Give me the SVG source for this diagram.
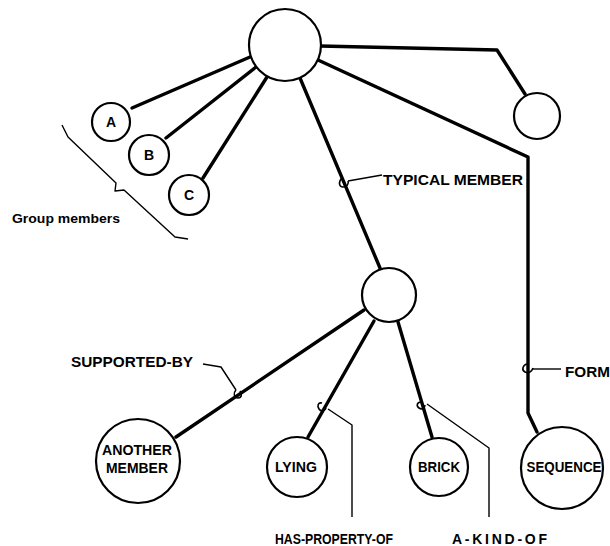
<svg xmlns="http://www.w3.org/2000/svg" width="610" height="546" viewBox="0 0 610 546">
<style>
.node{fill:#fff;stroke:#000;stroke-width:2.2}
.edge{fill:none;stroke:#000;stroke-width:3.4;stroke-linejoin:round;stroke-linecap:round}
.lead{fill:none;stroke:#000;stroke-width:1.4;stroke-linejoin:round}
.curl{fill:none;stroke:#000;stroke-width:1.6}
text{font-family:"Liberation Sans",Arial,sans-serif;font-weight:bold;fill:#000}
.lbl{font-size:15px}
.bl{font-size:14px}
.nl{font-size:14px;text-anchor:middle}
</style>
<rect width="610" height="546" fill="#fff"/>
<g id="connectors">
<path class="edge" d="M250,57 L132,108"/>
<path class="edge" d="M256,67 L166,138"/>
<path class="edge" d="M267,77 L203,178"/>
<path class="edge" d="M300,78 L380,268"/>
<path class="edge" d="M320,46 L497,50 L525,94"/>
<path class="edge" d="M318,60 L528,157 L528,413 L537,432"/>
<path class="edge" d="M364,310 L176,437"/>
<path class="edge" d="M374,321 L308,437"/>
<path class="edge" d="M398,322 L432,437"/>
</g>
<g id="label-typical-member">
<path class="curl" d="M342,178 c-4,4 -3,9 1,9 c4,0 6,-3 5,-6"/>
<path class="lead" d="M348,181 L382,175"/>
<text class="lbl" x="383" y="185" textLength="140" lengthAdjust="spacingAndGlyphs">TYPICAL MEMBER</text>
</g>
<g id="label-form">
<path class="curl" d="M527,364 c-4,1 -6,6 -2,8 c4,2 7,-1 8,-4"/>
<path class="lead" d="M532,369 L561,369"/>
<text class="lbl" x="565" y="377" textLength="45" lengthAdjust="spacingAndGlyphs">FORM</text>
</g>
<g id="label-supported-by">
<text class="lbl" x="71" y="367" textLength="122" lengthAdjust="spacingAndGlyphs">SUPPORTED-BY</text>
<path class="lead" d="M203,364 L221,367 L236,390"/>
<path class="curl" d="M236,390 c-3,3 -2,8 2,8 c4,0 4,-4 2,-7"/>
</g>
<g id="label-has-property-of">
<path class="curl" d="M322,403 c-4,-1 -5,3 -3,6 c2,3 6,2 7,-1"/>
<path class="lead" d="M328,409 L352,425 L352,517"/>
<text class="bl" x="275" y="544" textLength="118" lengthAdjust="spacingAndGlyphs">HAS-PROPERTY-OF</text>
</g>
<g id="label-a-kind-of">
<path class="curl" d="M421,402 c-4,0 -5,4 -2,6 c3,2 6,0 6,-3"/>
<path class="lead" d="M427,404 L489,448 L489,517"/>
<text class="bl" x="452" y="544" textLength="95" lengthAdjust="spacing">A-KIND-OF</text>
</g>
<g id="group-members">
<path class="lead" d="M62,125 L68,137 L116,183 L115,191 L124,190 L175,237 L188,239"/>
<text x="12" y="223" font-size="13" textLength="108" lengthAdjust="spacingAndGlyphs">Group members</text>
</g>
<g id="node-top"><circle class="node" cx="285" cy="45" r="36"/></g>
<g id="node-topright"><circle class="node" cx="537" cy="116" r="23"/></g>
<g id="node-a"><circle class="node" cx="111" cy="122" r="19"/><text class="nl" x="111" y="127">A</text></g>
<g id="node-b"><circle class="node" cx="149" cy="155" r="20"/><text class="nl" x="149" y="160">B</text></g>
<g id="node-c"><circle class="node" cx="189" cy="195" r="20"/><text class="nl" x="189" y="200">C</text></g>
<g id="node-mid"><circle class="node" cx="389" cy="295" r="27"/></g>
<g id="node-another-member"><circle class="node" cx="138" cy="461" r="42"/>
<text class="nl" x="137" y="455" textLength="70" lengthAdjust="spacingAndGlyphs">ANOTHER</text>
<text class="nl" x="137" y="473" textLength="62" lengthAdjust="spacingAndGlyphs">MEMBER</text></g>
<g id="node-lying"><circle class="node" cx="297" cy="467" r="30"/><text class="nl" x="296" y="472" textLength="42" lengthAdjust="spacingAndGlyphs">LYING</text></g>
<g id="node-brick"><circle class="node" cx="439" cy="467" r="29"/><text class="nl" x="439" y="472" textLength="42" lengthAdjust="spacingAndGlyphs">BRICK</text></g>
<g id="node-sequence"><circle class="node" cx="562" cy="468" r="41"/><text class="nl" x="564" y="472" textLength="75" lengthAdjust="spacingAndGlyphs">SEQUENCE</text></g>
</svg>
